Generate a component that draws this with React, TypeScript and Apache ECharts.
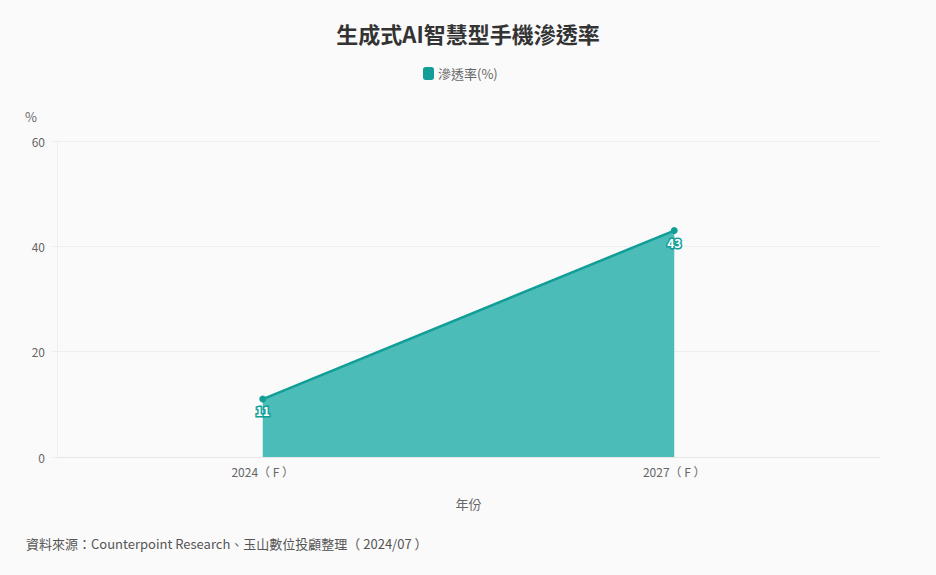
import React, { useEffect, useRef } from "react";
import * as echarts from "echarts";

const categories = ["2024（ F ）", "2027（ F ）"];
const penetration = [11, 43];
const seriesName = "滲透率(%)";
const titleText = "生成式AI智慧型手機滲透率";
const sourceText = "資料來源：Counterpoint Research、玉山數位投顧整理（ 2024/07 ）";

const FONT = '"Noto Sans CJK TC", "Noto Sans", sans-serif';
const TEAL = "#119e97";

export default function App() {
  const ref = useRef<HTMLDivElement>(null);
  useEffect(() => {
    document.body.style.margin = "0";
    const chart = echarts.init(ref.current!, null, { renderer: "svg" });
    chart.setOption({
      animation: false,
      backgroundColor: "#fafafa",
      textStyle: { fontFamily: FONT },
      title: {
        text: titleText,
        left: "center",
        top: 17,
        textStyle: { fontSize: 22, fontWeight: "bold", color: "#333", fontFamily: FONT },
      },
      legend: {
        top: 62,
        left: 418,
        itemWidth: 11,
        itemHeight: 13,
        itemGap: 10,
        icon: "roundRect",
        textStyle: { fontSize: 13, color: "#666", fontFamily: FONT, padding: [0, 0, 0, -1] },
        data: [seriesName],
      },
      grid: { left: 57, right: 56, top: 141, bottom: 118, containLabel: false },
      xAxis: {
        type: "category",
        data: categories,
        boundaryGap: true,
        name: "年份",
        nameLocation: "middle",
        nameGap: 40,
        nameTextStyle: { fontSize: 13, color: "#666", fontFamily: FONT },
        axisLine: { lineStyle: { color: "#e6e6e6" } },
        axisTick: { show: false },
        axisLabel: { fontSize: 12, color: "#666", margin: 8, fontFamily: FONT },
      },
      yAxis: {
        type: "value",
        min: 0,
        max: 60,
        interval: 20,
        name: "%",
        nameLocation: "end",
        nameGap: 18,
        nameTextStyle: { fontSize: 13, color: "#666", align: "right", padding: [0, 20, 0, 0], fontFamily: FONT },
        axisLine: { show: true, lineStyle: { color: "#eeeeee" } },
        axisTick: { show: true, length: 6, lineStyle: { color: "#eeeeee" } },
        axisLabel: { fontSize: 12, color: "#666", margin: 12, fontFamily: FONT },
        splitLine: { lineStyle: { color: "#eeeeee" } },
      },
      series: [
        {
          name: seriesName,
          type: "line",
          data: penetration,
          color: TEAL,
          symbol: "circle",
          symbolSize: 7,
          lineStyle: { width: 2.5, color: TEAL },
          itemStyle: { color: TEAL },
          areaStyle: { color: "#4bbcb7", opacity: 1 },
          label: {
            show: true,
            position: "bottom",
            distance: 2,
            color: "#fff",
            fontSize: 12,
            fontWeight: "bold",
            textBorderColor: TEAL,
            textBorderWidth: 3,
            fontFamily: FONT,
          },
        },
      ],
      graphic: [
        {
          type: "text",
          left: 26,
          top: 537,
          style: { text: sourceText, fontSize: 13, fill: "#555", fontFamily: FONT },
        },
      ],
    });
    return () => chart.dispose();
  }, []);
  return <div ref={ref} style={{ width: 936, height: 575 }} />;
}
